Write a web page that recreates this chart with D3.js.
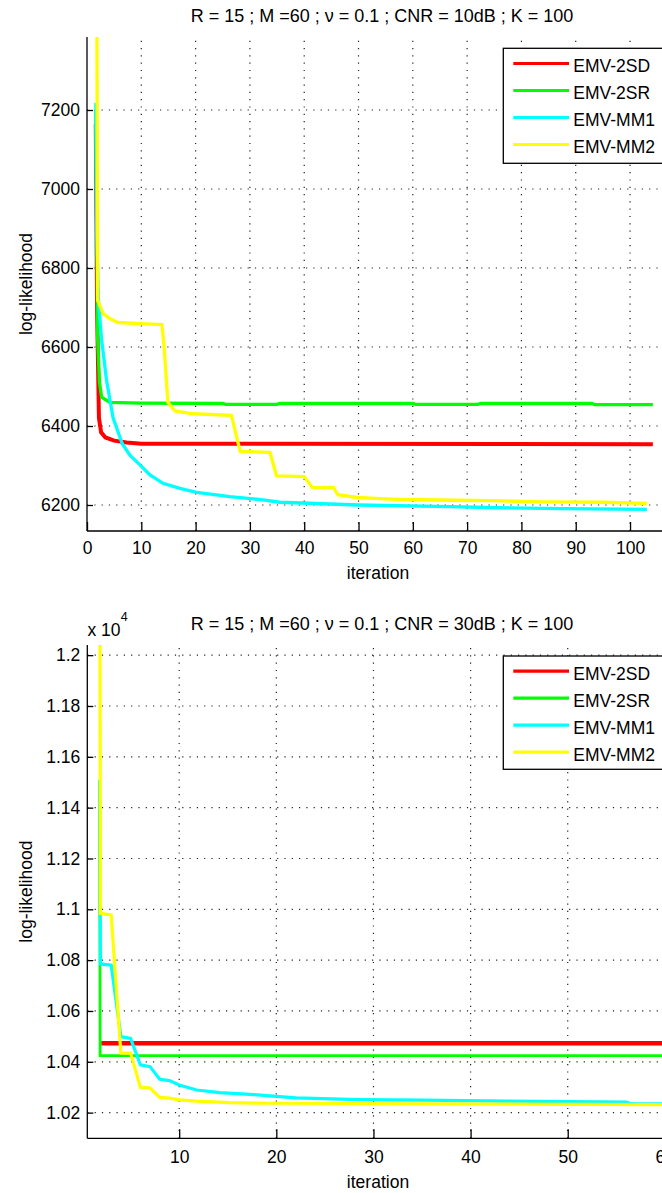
<!DOCTYPE html>
<html><head><meta charset="utf-8">
<script src="https://cdn.jsdelivr.net/npm/d3@7"></script>
<style>
html,body{margin:0;padding:0;background:#fff;overflow:hidden;}
svg{display:block;}
text{font-family:"Liberation Sans",Arial,Helvetica,sans-serif;fill:#000;}
</style></head><body>
<svg id="chart" width="662" height="1193"></svg>
<script>
// ---------- data ----------
const seriesNames  = ["EMV-2SD", "EMV-2SR", "EMV-MM1", "EMV-MM2"];
const seriesColors = ["#ff0000", "#00ff00", "#00ffff", "#ffff00"];

// top panel (CNR = 10dB)
const topTitle  = "R = 15 ; M =60 ; \u03bd = 0.1 ; CNR = 10dB ; K = 100";
const topXTicks = [0, 10, 20, 30, 40, 50, 60, 70, 80, 90, 100];
const topYTicks = [6200, 6400, 6600, 6800, 7000, 7200];
const topEMV2SD = [[1.62,7165],[1.85,6700],[2.2,6420],[2.6,6384],[3.4,6371],[5,6363],[7.3,6358],[10,6355],[104.2,6354]];
const topEMV2SR = [[1.62,7200],[1.85,6820],[1.95,6625],[2.3,6510],[2.7,6473],[4.2,6460],[10,6458],[25,6457],[25.5,6455],[35,6455],[35.5,6457],[60,6457],[60.5,6455],[72,6455],[72.5,6457],[93,6457],[93.5,6454],[104.2,6454]];
const topEMVMM1 = [[1.62,7218],[1.8,6890],[2.1,6718],[2.7,6617],[3.6,6516],[4.8,6421],[6.5,6355],[7.9,6326],[9.8,6301],[11.6,6276],[14,6255],[17.1,6242],[20.2,6232],[26.3,6221],[32.4,6213],[35.5,6207],[50,6200],[66.9,6196],[75.7,6193],[87.7,6191],[103.1,6189]];
const topEMVMM2 = [[1.5,9000],[1.97,6718],[2.95,6685],[4.2,6672],[5.7,6662],[9.8,6659],[13.8,6657],[14.2,6600],[14.9,6460],[16.2,6438],[19.5,6431],[26.6,6427],[28.2,6336],[33.7,6333],[34.9,6274],[40,6272],[41.5,6244],[45.4,6244],[46.2,6226],[49.7,6219],[54,6216],[57.8,6214],[67.8,6212],[74.8,6211],[83.8,6208],[94.8,6207],[103.1,6204]];

// bottom panel (CNR = 30dB), values in raw units (axis shows x 10^4)
const botTitle  = "R = 15 ; M =60 ; \u03bd = 0.1 ; CNR = 30dB ; K = 100";
const botXTicks = [10, 20, 30, 40, 50, 60];
const botYTicks = [10200, 10400, 10600, 10800, 11000, 11200, 11400, 11600, 11800, 12000];
const botYTickLabels = ["1.02", "1.04", "1.06", "1.08", "1.1", "1.12", "1.14", "1.16", "1.18", "1.2"];
const botEMV2SD = [[1.97,10473],[62,10473]];
const botEMV2SR = [[1.82,11400],[1.86,10424],[62,10424]];
const botEMVMM1 = [[1.8,11510],[1.9,10785],[3,10780],[4,10499],[5,10492],[6,10388],[7,10381],[8,10331],[9,10326],[10,10309],[11.8,10289],[14.2,10279],[17.7,10271],[22,10258],[28.5,10251],[35,10249],[43.7,10245],[56,10241],[56.5,10235],[62,10235]];
const botEMVMM2 = [[1.8,13000],[1.9,10984],[3,10978],[4,10434],[5,10434],[6,10300],[7,10297],[8,10260],[9,10257],[10,10250],[11.8,10245],[15.2,10239],[19.3,10237],[35,10235],[62,10231]];

// ---------- layout ----------
const FS = 17.5;
const svg = d3.select("#chart");

const panels = [
  {
    id: "p1", title: topTitle, titleY: 22,
    left: 87, right: 680, top: 37, bottom: 531,
    xDomain: [0, 109.2], yDomain: [6134.2, 7384.8],
    xTicks: topXTicks, yTicks: topYTicks, yFmt: d => String(d),
    series: [topEMV2SD, topEMV2SR, topEMVMM1, topEMVMM2],
    widths: [4, 3.3, 3.3, 3.3],
    xLabelBase: 554, iterBase: 579, exponent: false,
    legendTop: 48.3, legendH: 115
  },
  {
    id: "p2", title: botTitle, titleY: 630,
    left: 87.3, right: 680.4, top: 645, bottom: 1138.3,
    xDomain: [0.54, 61.6], yDomain: [10099, 12040],
    xTicks: botXTicks, yTicks: botYTicks, yFmt: (d, i) => botYTickLabels[i],
    series: [botEMV2SD, botEMV2SR, botEMVMM1, botEMVMM2],
    widths: [4.7, 2.8, 3.2, 3.2],
    xLabelBase: 1163, iterBase: 1187.5, exponent: true,
    legendTop: 656, legendH: 113.3
  }
];

panels.forEach(p => {
  const x = d3.scaleLinear().domain(p.xDomain).range([p.left, p.right]);
  const y = d3.scaleLinear().domain(p.yDomain).range([p.bottom, p.top]);
  const g = svg.append("g");

  // grid
  const grid = g.append("g").attr("stroke", "#222").attr("stroke-width", 1.2).attr("stroke-dasharray", "1.2,6.1");
  p.xTicks.forEach(t => {
    if (x(t) <= p.left + 1) return;
    grid.append("line").attr("x1", x(t)).attr("x2", x(t)).attr("y1", p.bottom).attr("y2", p.top);
  });
  p.yTicks.forEach(t => {
    grid.append("line").attr("x1", p.left).attr("x2", p.right).attr("y1", y(t)).attr("y2", y(t));
  });

  // clip
  svg.append("clipPath").attr("id", "clip-" + p.id)
    .append("rect").attr("x", p.left).attr("y", p.top)
    .attr("width", p.right - p.left).attr("height", p.bottom - p.top);

  const line = d3.line().x(d => x(d[0])).y(d => y(d[1]));
  const lg = g.append("g").attr("clip-path", "url(#clip-" + p.id + ")");
  p.series.forEach((s, i) => {
    lg.append("path").datum(s).attr("d", line)
      .attr("fill", "none").attr("stroke", seriesColors[i])
      .attr("stroke-width", p.widths[i]).attr("stroke-linejoin", "miter");
  });

  // axes
  const xAxis = d3.axisBottom(x).tickValues(p.xTicks).tickSize(-9).tickSizeOuter(0)
    .tickPadding(p.xLabelBase - p.bottom - 0.71 * FS).tickFormat(d3.format("d"));
  const yAxis = d3.axisLeft(y).tickValues(p.yTicks).tickSize(-6).tickSizeOuter(0)
    .tickPadding(7).tickFormat(p.yFmt);

  const ga = g.append("g").attr("transform", `translate(0,${p.bottom})`).call(xAxis);
  const gb = g.append("g").attr("transform", `translate(${p.left},0)`).call(yAxis);
  [ga, gb].forEach(a => {
    a.attr("font-size", FS).attr("font-family", null);
    a.selectAll("path.domain").attr("stroke", "#000").attr("stroke-width", 1.3);
    a.selectAll(".tick line").attr("stroke", "#000").attr("stroke-width", 1.3);
    a.selectAll(".tick text").attr("fill", "#000");
  });
  ga.select("path.domain").attr("d", `M${p.left},0H${p.right}`);
  gb.select("path.domain").attr("d", `M0,${p.bottom}V${p.top}`);

  // titles and labels
  g.append("text").attr("x", 382).attr("y", p.titleY).attr("text-anchor", "middle")
    .attr("font-size", 18).text(p.title);
  g.append("text").attr("x", 378).attr("y", p.iterBase).attr("text-anchor", "middle")
    .attr("font-size", FS).text("iteration");
  g.append("text").attr("transform", `translate(31.7,${(p.top + p.bottom) / 2}) rotate(-90)`)
    .attr("text-anchor", "middle").attr("font-size", FS).text("log-likelihood");

  if (p.exponent) {
    g.append("text").attr("x", 87.4).attr("y", 636).attr("font-size", FS).text("x 10");
    g.append("text").attr("x", 120.8).attr("y", 620.5).attr("font-size", 12.5).text("4");
  }

  // legend
  const leg = g.append("g");
  leg.append("rect").attr("x", 503.3).attr("y", p.legendTop).attr("width", 200).attr("height", p.legendH)
    .attr("fill", "#fff").attr("stroke", "#000").attr("stroke-width", 1.3);
  seriesNames.forEach((n, i) => {
    const ly = p.legendTop + 15.2 + i * 27;
    leg.append("line").attr("x1", 513.3).attr("x2", 569).attr("y1", ly).attr("y2", ly)
      .attr("stroke", seriesColors[i]).attr("stroke-width", 3.2);
    leg.append("text").attr("x", 573.3).attr("y", ly + 8.5).attr("font-size", FS).text(n);
  });
});
</script>
</body></html>
